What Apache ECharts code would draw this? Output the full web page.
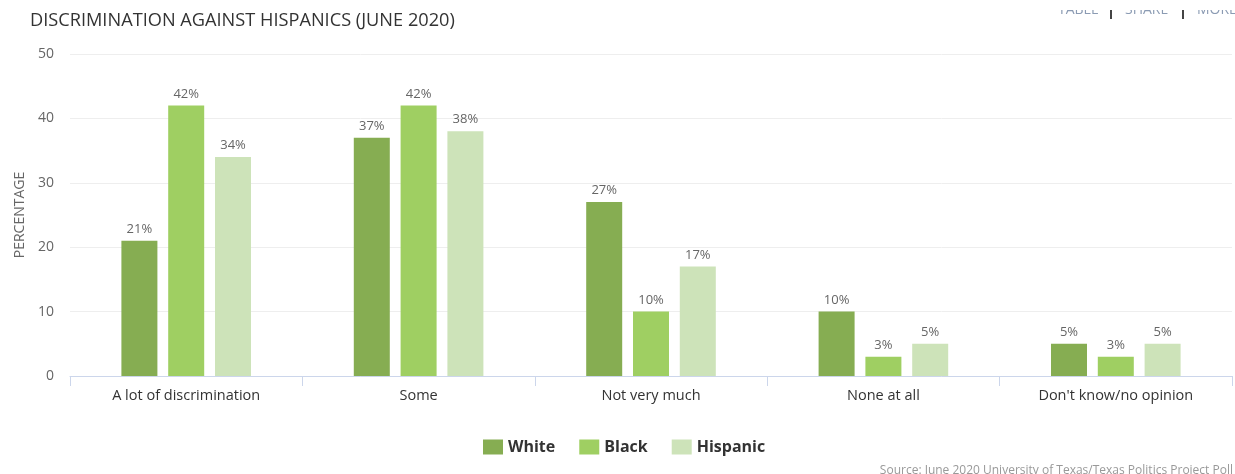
<!DOCTYPE html>
<html>
<head>
<meta charset="utf-8">
<script src="https://cdn.jsdelivr.net/npm/echarts@6/dist/echarts.min.js"></script>
<style>
  html, body { margin: 0; padding: 0; background: #fff; }
  #chart { width: 1235px; height: 474px; }
</style>
</head>
<body>
<div id="chart"></div>
<script>
const categories = ['A lot of discrimination', 'Some', 'Not very much', 'None at all', "Don't know/no opinion"];
const white = [21, 37, 27, 10, 5];
const black = [42, 42, 10, 3, 3];
const hispanic = [34, 38, 17, 5, 5];
const yTicks = [0, 10, 20, 30, 40, 50];

const font = '"Open Sans", sans-serif';

const mkSeries = (name, data, color) => ({
    name: name,
    type: 'bar',
    data: data,
    barWidth: 36,
    barGap: '30%',
    itemStyle: { color: color },
    label: {
        show: true,
        position: 'top',
        distance: 5,
        formatter: '{c}%',
        color: '#666',
        fontSize: 13,
        fontFamily: font
    }
});

// top-right menu links, partly cut off at the top edge
const menuText = (txt, x) => ({
    type: 'text', left: x, top: 3, z: 1,
    style: { text: txt, fontFamily: font, fontSize: 14, fill: '#8b9bb3' }
});
const menuBar = (x) => ({
    type: 'rect', z: 3, shape: { x: x, y: 10, width: 2, height: 9 },
    style: { fill: '#444' }
});

var myChart = echarts.init(document.getElementById('chart'));
option = {
    animation: false,
    title: {
        text: 'DISCRIMINATION AGAINST HISPANICS (JUNE 2020)',
        left: 25,
        top: 7,
        textStyle: { fontFamily: font, fontSize: 18.2, fontWeight: 'normal', color: '#333' }
    },
    graphic: [
        menuText('TABLE', 1058),
        menuText('SHARE', 1125),
        menuText('MORE', 1197),
        { type: 'rect', z: 2, shape: { x: 1050, y: 0, width: 185, height: 10 }, style: { fill: '#fff' } },
        menuBar(1110),
        menuBar(1182),
        {
            type: 'text', right: 2, bottom: -3,
            style: { text: 'Source: June 2020 University of Texas/Texas Politics Project Poll', fontFamily: font, fontSize: 12, fill: '#999' }
        }
    ],
    legend: {
        bottom: 14,
        left: 478,
        itemWidth: 20,
        itemHeight: 15,
        itemGap: 24,
        icon: 'rect',
        textStyle: { fontFamily: font, fontSize: 16, fontWeight: 'bold', color: '#333' }
    },
    grid: { left: 70, right: 3, top: 54, bottom: 98 },
    xAxis: {
        type: 'category',
        data: categories,
        axisLine: { lineStyle: { color: '#ccd6eb' } },
        axisTick: { show: true, length: 10, lineStyle: { color: '#ccd6eb' } },
        axisLabel: { color: '#333', fontSize: 14.5, fontFamily: font, margin: 12 }
    },
    yAxis: {
        type: 'value',
        min: yTicks[0],
        max: yTicks[yTicks.length - 1],
        interval: 10,
        name: 'PERCENTAGE',
        nameLocation: 'middle',
        nameGap: 43,
        nameTextStyle: { color: '#666', fontSize: 14, fontFamily: font },
        axisLabel: { color: '#666', fontSize: 14, fontFamily: font, margin: 16 },
        splitLine: { lineStyle: { color: '#eee' } }
    },
    series: [
        mkSeries('White', white, '#86ad52'),
        mkSeries('Black', black, '#9fcf62'),
        mkSeries('Hispanic', hispanic, '#cde3b9')
    ]
};
myChart.setOption(option);
</script>
</body>
</html>
